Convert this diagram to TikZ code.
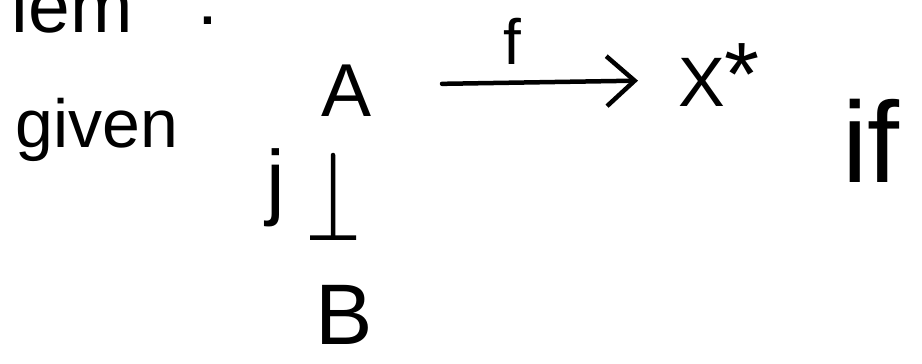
\documentclass[tikz,border=0pt]{standalone}
\usepackage{fontspec}
\setmainfont{Liberation Sans}
\usetikzlibrary{arrows.meta}
\begin{document}
\begin{tikzpicture}[x=1pt,y=1pt,
  txt/.style={inner sep=0pt, outer sep=0pt, text=black},
  stroke/.style={line width=4.5pt, line cap=round, line join=round}]
\useasboundingbox (0,0) rectangle (922,364);
\fill[white] (0,0) rectangle (922,364);
\node[txt, anchor=base west, font=\fontsize{75}{80}\selectfont] (lem) at (12,331) {lem\hspace{65pt}\raisebox{8pt}{:}};
\node[txt, anchor=base west, font=\fontsize{68}{72}\selectfont] (given) at (16,216) {given};
\node[txt, anchor=base west, font=\fontsize{75}{80}\selectfont] (A) at (321,247) {A};
\node[txt, anchor=base west, font=\fontsize{70}{74}\selectfont] (X) at (678,257) {X\raisebox{1pt}{\fontsize{90}{90}\selectfont *}};
\node[txt, anchor=base, font=\fontsize{64}{68}\selectfont] (f) at (512,299) {f};
\node[txt, anchor=base, font=\fontsize{84}{88}\selectfont] (j) at (276,154) {j};
\node[txt, anchor=base west, font=\fontsize{86}{90}\selectfont] (B) at (315,19) {B};
\node[txt, anchor=base west, font=\fontsize{115}{120}\selectfont] (if) at (842,181) {if};
\draw[stroke, shorten <=71pt, shorten >=40pt, -{Straight Barb[length=28pt, width=50pt, line width=4.5pt]}]
  ([yshift=32pt]A.base east) -- ([yshift=27pt]X.base west);
\draw[stroke, shorten <=38pt, shorten >=46pt, -{Bar[width=46pt, line width=4.5pt]}]
  ([xshift=-13pt]A.south) -- ([xshift=-10.6pt]B.north);
\end{tikzpicture}
\end{document}
